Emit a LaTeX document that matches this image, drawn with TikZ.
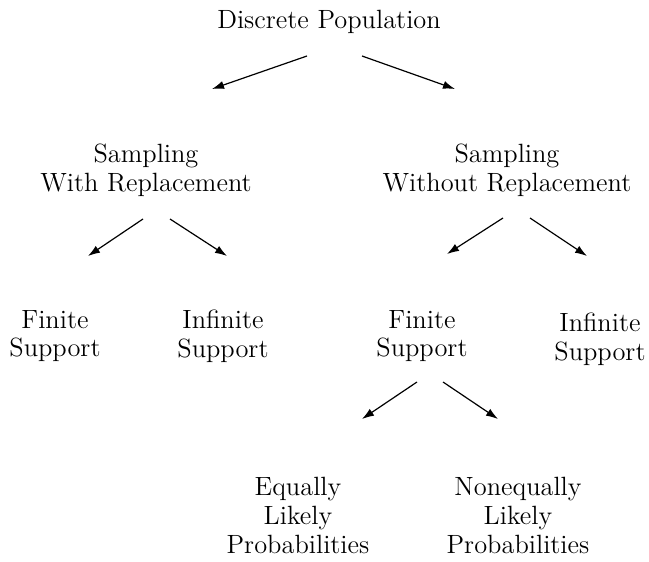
\documentclass[tikz,border=0pt]{standalone}
\usetikzlibrary{arrows.meta}
\begin{document}
\begin{tikzpicture}[x=0.4167pt,y=-0.4167pt,
  lbl/.style={align=center,inner sep=0pt,anchor=north,font=\fontsize{11}{12}\selectfont},
  arr/.style={line width=0.5pt,-{Latex[length=5pt,width=3.4pt]}}]
\useasboundingbox (0,0) rectangle (649,562);
\node[lbl] (dp) at (329,9.7) {Discrete Population};
\node[lbl] (swr) at (146,143.7) {Sampling\\With Replacement};
\node[lbl] (swor) at (507,143.7) {Sampling\\Without Replacement};
\node[lbl] (fs1) at (55,309.7) {Finite\\Support};
\node[lbl] (is1) at (223,309.7) {Infinite\\Support};
\node[lbl] (fs2) at (422,309.7) {Finite\\Support};
\node[lbl] (is2) at (600,312.7) {Infinite\\Support};
\node[lbl] (el) at (298,476.7) {Equally\\Likely\\Probabilities};
\node[lbl] (nl) at (518,476.7) {Nonequally\\Likely\\Probabilities};
% arrow endpoints
\coordinate (a1s) at (307,56); \coordinate (a1e) at (212,89);
\coordinate (a2s) at (362,56); \coordinate (a2e) at (455,89);
\coordinate (b1s) at (143,219); \coordinate (b1e) at (88,256);
\coordinate (b2s) at (170,219); \coordinate (b2e) at (227,256);
\coordinate (c1s) at (503,218); \coordinate (c1e) at (447,254);
\coordinate (c2s) at (530,218); \coordinate (c2e) at (587,256);
\coordinate (d1s) at (417,382); \coordinate (d1e) at (362,419);
\coordinate (d2s) at (443,382); \coordinate (d2e) at (498,419);
\draw[arr] (a1s) -- (a1e);
\draw[arr] (a2s) -- (a2e);
\draw[arr] (b1s) -- (b1e);
\draw[arr] (b2s) -- (b2e);
\draw[arr] (c1s) -- (c1e);
\draw[arr] (c2s) -- (c2e);
\draw[arr] (d1s) -- (d1e);
\draw[arr] (d2s) -- (d2e);
\end{tikzpicture}
\end{document}
